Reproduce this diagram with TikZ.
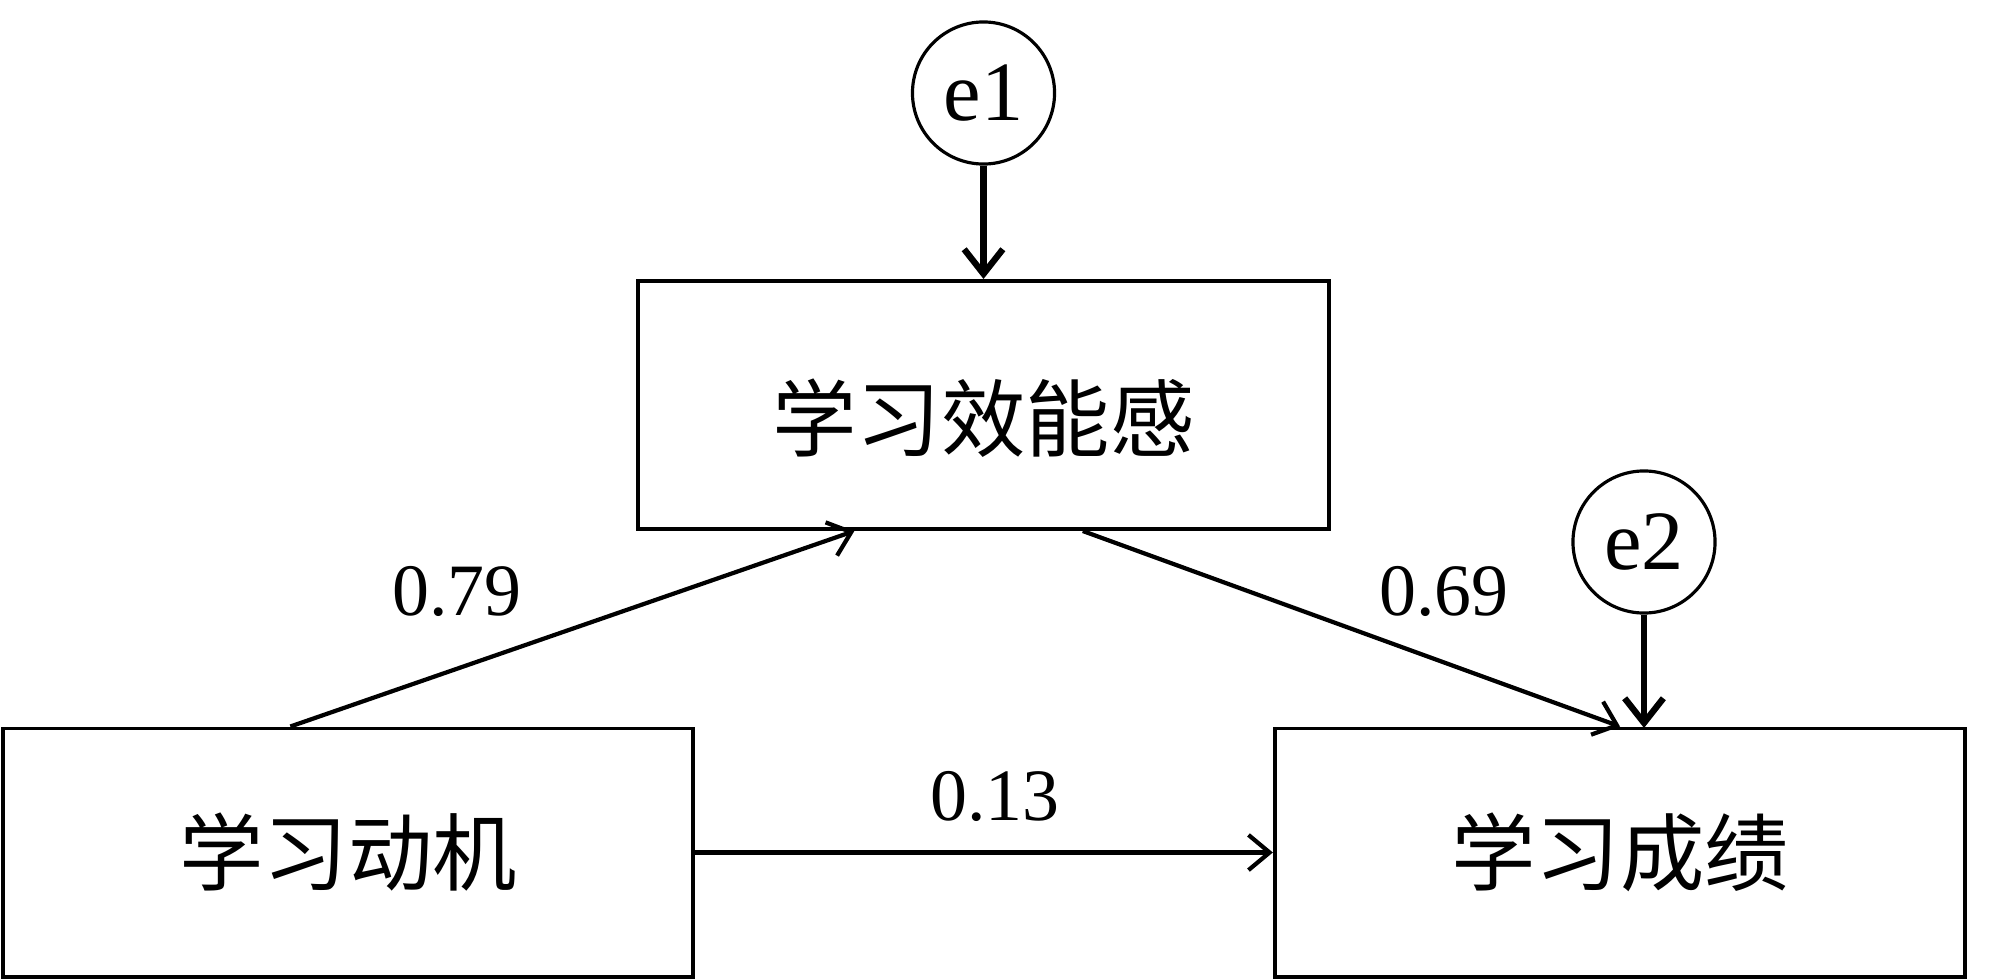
\documentclass[tikz,border=0pt]{standalone}
\usepackage{fontspec}
\setmainfont{Liberation Serif}
\newfontfamily\cjk{Noto Sans CJK SC}
\usetikzlibrary{arrows.meta,calc}
\tikzset{
  box/.style={draw=black, line width=1.1pt, minimum width=6.9cm, minimum height=2.48cm, inner sep=0pt, font=\cjk\fontsize{24}{28}\selectfont},
  err/.style={draw=black, circle, line width=0.9pt, minimum size=1.42cm, inner sep=0pt, font=\fontsize{24}{28}\selectfont},
  path/.style={line width=1.2pt, -{Straight Barb[length=6pt,width=10pt,line width=1.2pt]}},
  errarrow/.style={line width=1.8pt, -{Straight Barb[length=7pt,width=11pt,line width=1.8pt]}},
  coef/.style={font=\fontsize{21}{25}\selectfont, inner sep=0pt}
}
\begin{document}
\begin{tikzpicture}[x=0.01cm,y=-0.01cm]
\useasboundingbox (0,0) rectangle (2000,979);
\node[box, text height=1.0cm, text depth=0.1cm] (eff) at (983.5,405) {学习效能感};
\node[box] (mot) at (348,852.5) {学习动机};
\node[box] (ach) at (1620,852.5) {学习成绩};
\node[err] (e1) at (983.5,93) {e1};
\node[err] (e2) at (1644,542) {e2};
\coordinate (e2t) at (1644,728);
\draw[errarrow] (e1) -- (eff.north);
\draw[errarrow] (e2) -- (e2t);
\draw[path] ($(mot.north west)!0.417!(mot.north east)$) -- ($(eff.south west)!0.314!(eff.south east)$);
\draw[path] ($(eff.south west)!0.643!(eff.south east)$) -- (ach.north);
\draw[path] (mot.east) -- (ach.west);
\node[coef] (c1) at (457,591) {0.79};
\node[coef] (c2) at (1444,591) {0.69};
\node[coef] (c3) at (995,796) {0.13};
\end{tikzpicture}
\end{document}
